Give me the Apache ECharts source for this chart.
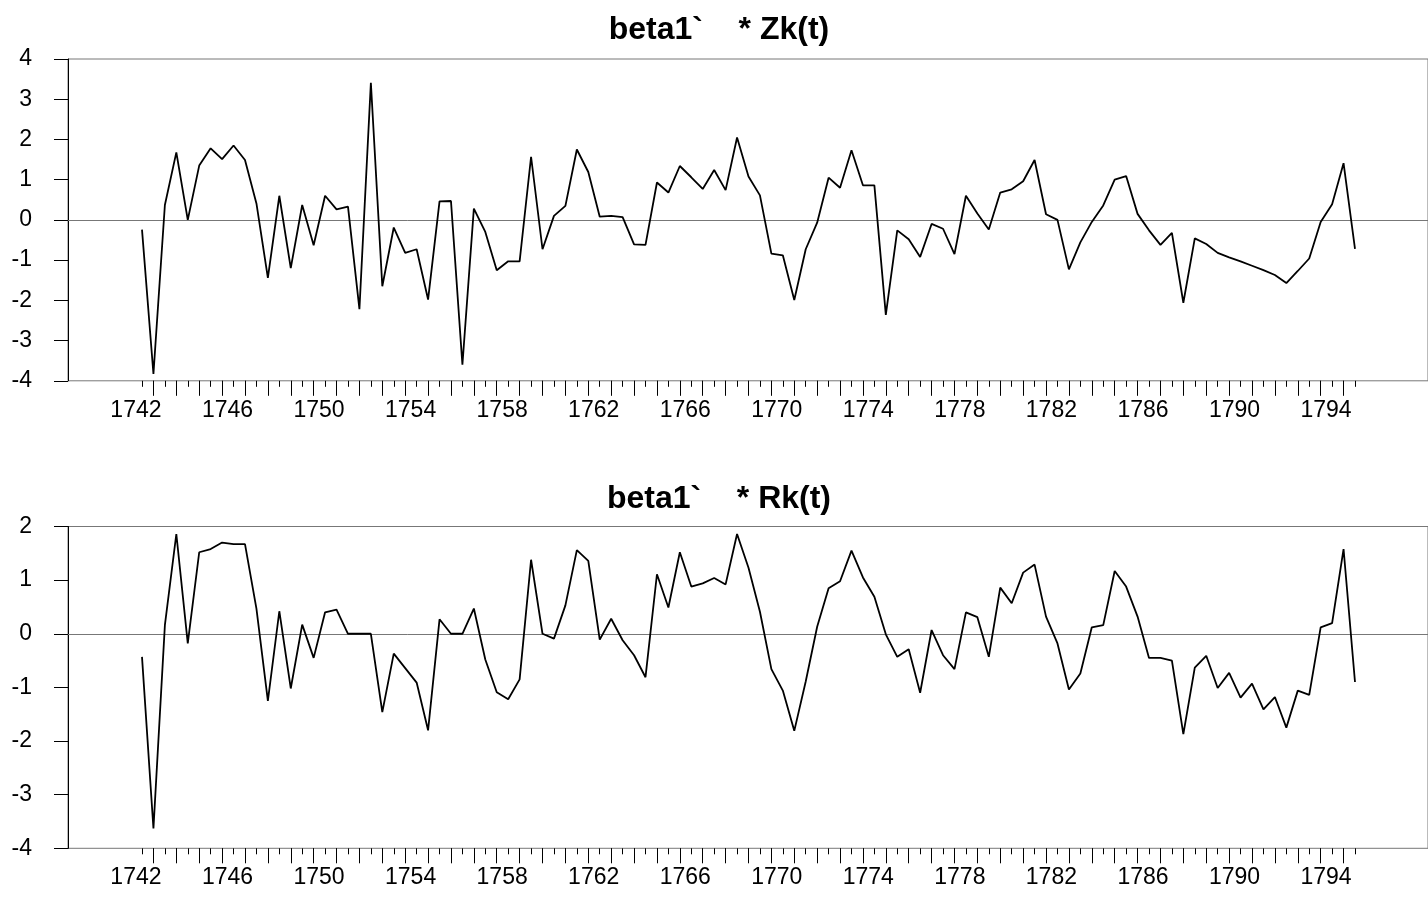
<!DOCTYPE html>
<html>
<head>
<meta charset="utf-8">
<script src="https://cdn.jsdelivr.net/npm/echarts@6/dist/echarts.min.js"></script>
<style>
html,body{margin:0;padding:0;background:#fff;}
#chart{width:1428px;height:899px;}
</style>
</head>
<body>
<div id="chart"></div>
<script>
// Half-yearly periods 1741.5 ... 1794.5 (107 observations)
const startYear = 1741.5;
const nObs = 107;
const periods = [];
for (let k = 0; k < nObs; k++) {
  const y = startYear + k * 0.5;
  periods.push(Number.isInteger(y) ? String(y) : y.toFixed(1));
}
const tickLabels = ['1742','1746','1750','1754','1758','1762','1766','1770','1774','1778','1782','1786','1790','1794'];
const yearTicks = periods.filter(p => p.indexOf('.') < 0);

const titleTop = 'beta1`    * Zk(t)';
const titleBottom = 'beta1`    * Rk(t)';

const zkValues = [
 -0.24,-3.83,0.37,1.68,0.00,1.35,1.78,1.51,1.85,1.49,
 0.41,-1.44,0.60,-1.20,0.37,-0.63,0.60,0.26,0.33,-2.22,
 3.41,-1.65,-0.19,-0.82,-0.73,-1.98,0.46,0.47,-3.60,0.28,
 -0.30,-1.25,-1.03,-1.03,1.57,-0.73,0.10,0.35,1.75,1.19,
 0.08,0.10,0.07,-0.61,-0.62,0.93,0.68,1.34,1.06,0.77,
 1.24,0.74,2.05,1.08,0.61,-0.84,-0.88,-1.99,-0.73,-0.07,
 1.05,0.80,1.73,0.86,0.86,-2.36,-0.26,-0.48,-0.92,-0.10,
 -0.22,-0.85,0.60,0.16,-0.24,0.68,0.76,0.96,1.49,0.14,
 0.00,-1.23,-0.56,-0.05,0.36,1.00,1.09,0.15,-0.26,-0.62,
 -0.32,-2.06,-0.46,-0.60,-0.82,-0.93,-1.03,-1.14,-1.25,-1.37,
 -1.57,-1.27,-0.96,-0.05,0.39,1.41,-0.72
];
const rkValues = [
 -0.43,-3.63,0.16,1.86,-0.18,1.52,1.58,1.70,1.67,1.67,
 0.47,-1.25,0.42,-1.02,0.17,-0.45,0.40,0.45,0.00,0.00,
 0.00,-1.46,-0.37,-0.64,-0.91,-1.80,0.27,0.00,0.00,0.47,
 -0.48,-1.09,-1.22,-0.85,1.38,0.00,-0.09,0.53,1.56,1.36,
 -0.11,0.28,-0.12,-0.40,-0.81,1.11,0.49,1.52,0.88,0.94,
 1.04,0.92,1.86,1.23,0.41,-0.66,-1.06,-1.81,-0.89,0.13,
 0.85,0.98,1.55,1.05,0.69,-0.01,-0.43,-0.29,-1.10,0.07,
 -0.40,-0.66,0.40,0.31,-0.43,0.86,0.57,1.14,1.29,0.32,
 -0.18,-1.04,-0.74,0.12,0.16,1.17,0.88,0.32,-0.45,-0.45,
 -0.50,-1.87,-0.63,-0.41,-1.01,-0.73,-1.19,-0.93,-1.41,-1.18,
 -1.75,-1.06,-1.14,0.12,0.20,1.58,-0.90
];

const FONT = 'Liberation Sans, Arial, Helvetica, sans-serif';
const panels = [
  { title: titleTop, values: zkValues, top: 59, min: -4, max: 4, titleTop: 9 },
  { title: titleBottom, values: rkValues, top: 526.5, min: -4, max: 2, titleTop: 478 }
];
const plotH = 321.8;
const outerLeft = 68, innerLeft = 142, innerWidth = 1213;

const option = { animation: false, backgroundColor: '#fff', title: [], grid: [], xAxis: [], yAxis: [], series: [] };

panels.forEach((p, pi) => {
  option.title.push({
    text: p.title, left: 714, top: p.titleTop, textAlign: 'center',
    textStyle: { fontFamily: FONT, fontSize: 32, fontWeight: 'bold', color: '#000' }
  });
  const gOuter = option.grid.length;
  option.grid.push({ left: outerLeft, top: p.top, width: 1428 - outerLeft + 20, height: plotH,
    show: true, borderColor: '#777', borderWidth: 1, backgroundColor: 'transparent' });
  const gInner = option.grid.length;
  option.grid.push({ left: innerLeft, top: p.top, width: innerWidth, height: plotH, show: false });

  // outer grid axes (zero line, y scale)
  option.xAxis.push({ gridIndex: gOuter, type: 'value', min: 0, max: 1,
    axisLine: { show: true, onZero: true, lineStyle: { color: '#777', width: 1 } },
    axisTick: { show: false }, axisLabel: { show: false }, splitLine: { show: false } });
  option.yAxis.push({ gridIndex: gOuter, type: 'value', min: p.min, max: p.max, interval: 1,
    axisLine: { show: true, lineStyle: { color: '#000', width: 1 } },
    axisTick: { show: true, length: 14, lineStyle: { color: '#000', width: 1 } },
    axisLabel: { show: true, margin: 36, fontFamily: FONT, fontSize: 23, color: '#000' },
    splitLine: { show: false } });

  // inner grid axes
  const xMinor = option.xAxis.length;
  option.xAxis.push({ gridIndex: gInner, type: 'category', position: 'bottom', data: periods, boundaryGap: false,
    axisLine: { show: false, onZero: false },
    axisTick: { show: true, interval: 0, length: 6, lineStyle: { color: '#000', width: 1 } },
    axisLabel: { show: false }, splitLine: { show: false } });
  option.xAxis.push({ gridIndex: gInner, type: 'category', position: 'bottom', data: periods, boundaryGap: false,
    axisLine: { show: false, onZero: false },
    axisTick: { show: true, interval: (i, v) => yearTicks.indexOf(v) >= 0, length: 15, lineStyle: { color: '#000', width: 1 } },
    axisLabel: { show: true, interval: (i, v) => tickLabels.indexOf(v) >= 0, margin: 18,
      fontFamily: FONT, fontSize: 23, color: '#000', padding: [0, 35, 0, 0] },
    splitLine: { show: false } });
  const yInner = option.yAxis.length;
  option.yAxis.push({ gridIndex: gInner, type: 'value', min: p.min, max: p.max, show: false });

  option.series.push({ type: 'line', xAxisIndex: xMinor, yAxisIndex: yInner, data: p.values,
    symbol: 'none', lineStyle: { color: '#000', width: 1.8 }, z: 5 });
});

const chart = echarts.init(document.getElementById('chart'), null, { renderer: 'canvas' });
chart.setOption(option);
</script>
</body>
</html>
